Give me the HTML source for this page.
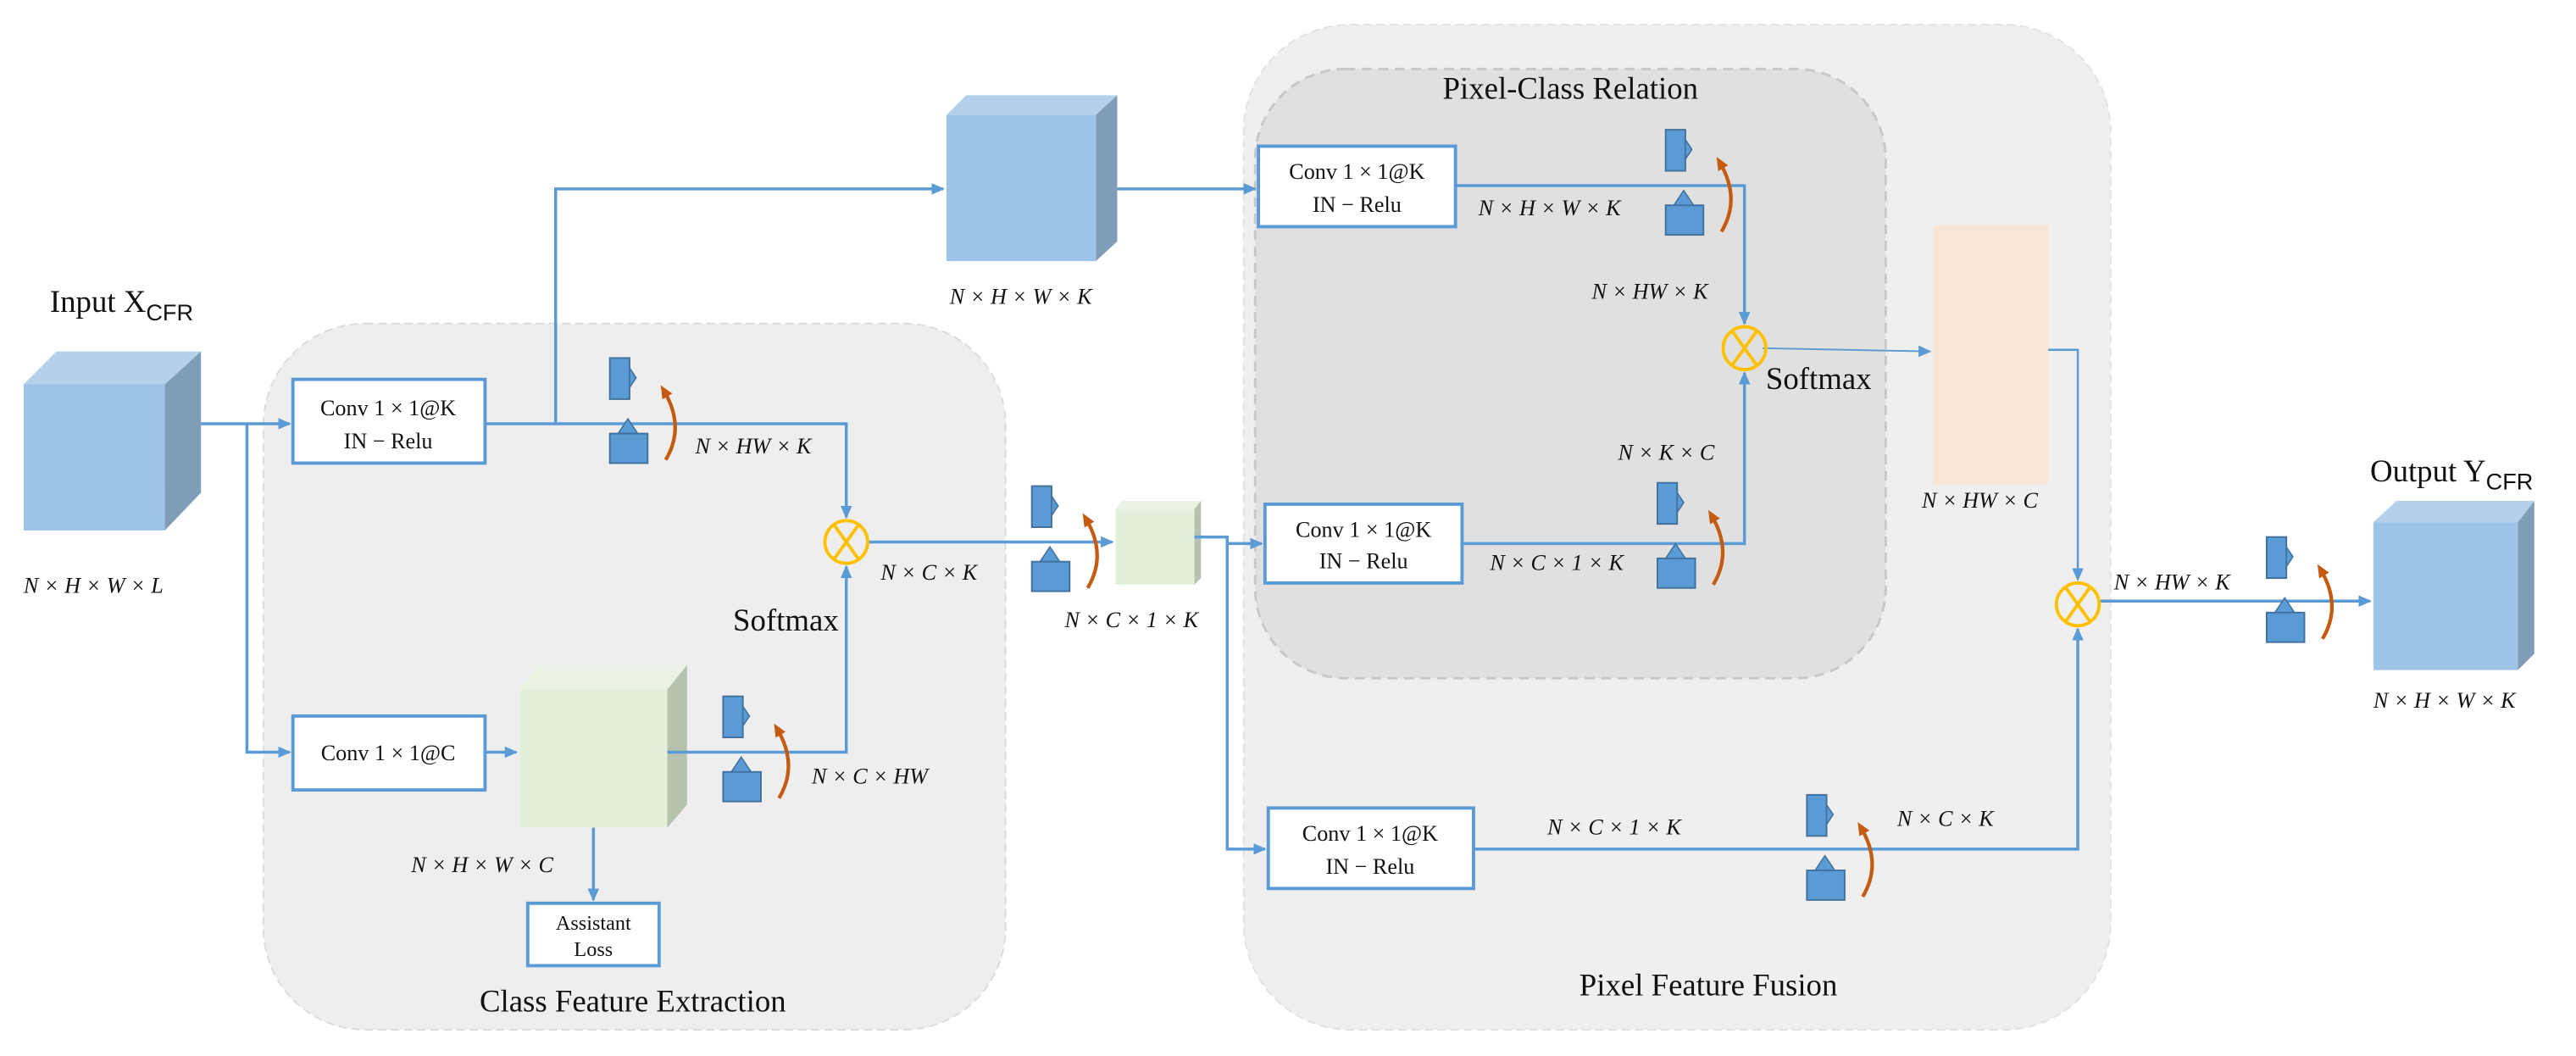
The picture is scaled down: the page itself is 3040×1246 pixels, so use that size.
<!DOCTYPE html>
<html><head><meta charset="utf-8"><style>
html,body{margin:0;padding:0;background:#fff;}
svg{display:block;}
text{font-family:"Liberation Serif",serif;fill:#111;}
.m{font-style:italic;font-size:13.5px;}
.b{font-size:13.5px;}
.t{font-size:19px;}
</style></head><body>
<svg width="3040" height="1246" viewBox="0 0 1568 643" xmlns="http://www.w3.org/2000/svg">
<defs>
<marker id="a" markerWidth="8" markerHeight="8" refX="7" refY="4" orient="auto" markerUnits="userSpaceOnUse"><path d="M0,0.5 L8,4 L0,7.5 Z" fill="#5b9bd5"/></marker>
<marker id="o" markerWidth="8" markerHeight="8" refX="4" refY="4" orient="auto" markerUnits="userSpaceOnUse"><path d="M0,0.5 L8,4 L0,7.5 Z" fill="#c55a11"/></marker>
<g id="ic">
<rect x="0" y="0" width="12" height="25" fill="#5b9bd5" stroke="#41719c" stroke-width="1"/>
<polygon points="12,6 16,12 12,18" fill="#5b9bd5" stroke="#41719c" stroke-width="0.8"/>
<polygon points="5,46 11,37 17,46" fill="#5b9bd5" stroke="#41719c" stroke-width="0.8"/>
<rect x="0" y="46" width="23" height="18" fill="#5b9bd5" stroke="#41719c" stroke-width="1"/>
<path d="M34,62 Q46,42 33,20" fill="none" stroke="#c55a11" stroke-width="2.2" marker-end="url(#o)"/>
</g>
<g id="cx"><circle r="13" fill="none" stroke="#ffc000" stroke-width="2"/><path d="M-7.5,-10.5 L7.5,10.5 M7.5,-10.5 L-7.5,10.5" stroke="#ffc000" stroke-width="2"/></g>
</defs>

<rect x="160" y="197" width="452" height="430" rx="62" fill="#eeeeee" stroke="#dcdcdc" stroke-dasharray="5,3"/>
<rect x="757" y="15" width="528" height="612" rx="65" fill="#efefef" stroke="#e2e2e2" stroke-dasharray="5,3"/>
<rect x="764" y="42" width="384" height="371" rx="55" fill="#e0e0e0" stroke="#c8c8c8" stroke-width="1.5" stroke-dasharray="6,4"/>

<text class="t" x="30" y="190">Input X<tspan font-size="14" dy="5" font-family="Liberation Sans,sans-serif">CFR</tspan></text>
<text class="t" x="1443" y="293">Output Y<tspan font-size="14" dy="5" font-family="Liberation Sans,sans-serif">CFR</tspan></text>
<text class="t" x="956" y="60" text-anchor="middle">Pixel-Class Relation</text>
<text class="t" x="385" y="616" text-anchor="middle">Class Feature Extraction</text>
<text class="t" x="1040" y="606" text-anchor="middle">Pixel Feature Fusion</text>
<text class="t" x="446" y="384" font-size="17">Softmax</text>
<text class="t" x="1075" y="237" font-size="17">Softmax</text>

<polygon points="14,234 34,214 122,214 100,234" fill="#b4d0ea"/>
<polygon points="100,234 122,214 122,300 100,323" fill="#7f9db9"/>
<rect x="14" y="234" width="86" height="89" fill="#9dc3e6"/>
<text class="m" x="14" y="361">N × H × W × L</text>

<polygon points="576,70 588,58 680,58 667,70" fill="#b4d0ea"/>
<polygon points="667,70 680,58 680,147 667,159" fill="#7f9db9"/>
<rect x="576" y="70" width="91" height="89" fill="#9dc3e6"/>
<text class="m" x="578" y="185">N × H × W × K</text>

<polygon points="316,420 327,405 418,405 406,420" fill="#e9f2e3"/>
<polygon points="406,420 418,405 418,490 406,504" fill="#b5c2ad"/>
<rect x="316" y="420" width="90" height="84" fill="#e2efda"/>
<text class="m" x="250" y="531">N × H × W × C</text>

<polygon points="679,310 683,305 731,305 727,310" fill="#e9f2e3"/>
<polygon points="727,310 731,305 731,352 727,356" fill="#b5c2ad"/>
<rect x="679" y="310" width="48" height="46" fill="#e2efda"/>
<text class="m" x="648" y="382">N × C × 1 × K</text>

<rect x="1177" y="137" width="70" height="158" fill="#fbe5d6"/>
<text class="m" x="1170" y="309">N × HW × C</text>

<polygon points="1445,318 1459,305 1543,305 1533,318" fill="#b4d0ea"/>
<polygon points="1533,318 1543,305 1543,398 1533,408" fill="#7f9db9"/>
<rect x="1445" y="318" width="88" height="90" fill="#9dc3e6"/>
<text class="m" x="1445" y="431">N × H × W × K</text>

<g fill="#fff" stroke="#5b9bd5" stroke-width="2">
<rect x="178" y="231" width="117" height="51"/>
<rect x="178" y="436" width="117" height="45"/>
<rect x="321" y="550" width="80" height="38"/>
<rect x="766" y="89" width="120" height="49"/>
<rect x="770" y="307" width="120" height="48"/>
<rect x="772" y="492" width="125" height="49"/>
</g>
<g class="b" text-anchor="middle">
<text x="236" y="253">Conv 1 × 1@K</text><text x="236" y="273">IN − Relu</text>
<text x="236" y="463">Conv 1 × 1@C</text>
<text x="361" y="566" font-size="12.5" font-family="Liberation Sans,sans-serif">Assistant</text><text x="361" y="582" font-size="12.5" font-family="Liberation Sans,sans-serif">Loss</text>
<text x="826" y="109">Conv 1 × 1@K</text><text x="826" y="129">IN − Relu</text>
<text x="830" y="327">Conv 1 × 1@K</text><text x="830" y="346">IN − Relu</text>
<text x="834" y="512">Conv 1 × 1@K</text><text x="834" y="532">IN − Relu</text>
</g>

<g fill="none" stroke="#5b9bd5" stroke-width="1.8">
<path d="M122,258 L176,258" marker-end="url(#a)"/>
<path d="M150,258 L150,458 L176,458" marker-end="url(#a)"/>
<path d="M295,258 L515,258 L515,315" marker-end="url(#a)"/>
<path d="M338,258 L338,115 L574,115" marker-end="url(#a)"/>
<path d="M295,458 L314,458" marker-end="url(#a)"/>
<path d="M406,458 L515,458 L515,345" marker-end="url(#a)"/>
<path d="M361,504 L361,548" marker-end="url(#a)"/>
<path d="M528,330 L677,330" marker-end="url(#a)"/>
<path d="M680,115 L764,115" marker-end="url(#a)"/>
<path d="M727,327 L747,327 L747,331 L768,331" marker-end="url(#a)"/>
<path d="M747,327 L747,517 L770,517" marker-end="url(#a)"/>
<path d="M886,113 L1062,113 L1062,197" marker-end="url(#a)"/>
<path d="M890,331 L1062,331 L1062,227" marker-end="url(#a)"/>
<path d="M1073,212 L1175,214" stroke-width="1" marker-end="url(#a)"/>
<path d="M1247,213 L1265,213 L1265,353" stroke-width="1.3" marker-end="url(#a)"/>
<path d="M897,517 L1265,517 L1265,383" marker-end="url(#a)"/>
<path d="M1278,366 L1443,366" marker-end="url(#a)"/>
</g>
<use href="#cx" x="515" y="330"/>
<use href="#cx" x="1062" y="212"/>
<use href="#cx" x="1265" y="368"/>

<g class="m">
<text x="423" y="276">N × HW × K</text>
<text x="494" y="477">N × C × HW</text>
<text x="536" y="353">N × C × K</text>
<text x="900" y="131">N × H × W × K</text>
<text x="969" y="182">N × HW × K</text>
<text x="985" y="280">N × K × C</text>
<text x="907" y="347">N × C × 1 × K</text>
<text x="942" y="508">N × C × 1 × K</text>
<text x="1155" y="503">N × C × K</text>
<text x="1287" y="359">N × HW × K</text>
</g>

<use href="#ic" x="371" y="218"/>
<use href="#ic" x="440" y="424"/>
<use href="#ic" x="628" y="296"/>
<use href="#ic" x="1014" y="79"/>
<use href="#ic" x="1009" y="294"/>
<use href="#ic" x="1100" y="484"/>
<use href="#ic" x="1380" y="327"/>
</svg>
</body></html>
